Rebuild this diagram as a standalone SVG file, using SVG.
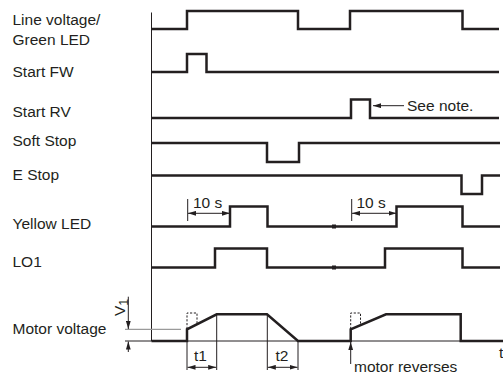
<svg xmlns="http://www.w3.org/2000/svg" width="503" height="374" viewBox="0 0 503 374">
<style>
.lbl{font-family:"Liberation Sans",Arial,Helvetica,sans-serif;font-size:15.5px;fill:#231f20}
.sig{fill:none;stroke:#231f20;stroke-width:2.5;stroke-linejoin:miter;stroke-linecap:butt}
.thin{fill:none;stroke:#231f20;stroke-width:1}
.gray{fill:none;stroke:#9a9a9a;stroke-width:1.2}
.dash{fill:none;stroke:#231f20;stroke-width:1;stroke-dasharray:2.2 1.6}
.arr{fill:none;stroke:#231f20;stroke-width:1;marker-end:url(#ah)}
.darr{fill:none;stroke:#231f20;stroke-width:1;marker-start:url(#ah);marker-end:url(#ah)}
</style>
<defs>
<marker id="ah" viewBox="0 0 10 6" refX="10" refY="3" markerWidth="8" markerHeight="5" orient="auto-start-reverse" markerUnits="userSpaceOnUse">
<path d="M0,0 L10,3 L0,6 z" fill="#231f20"/>
</marker>
</defs>
<rect width="503" height="374" fill="#ffffff"/>

<g id="axis">
<line x1="151.5" y1="12.5" x2="151.5" y2="341" class="thin"/>
<line x1="151.5" y1="341" x2="503" y2="341" class="thin"/>
</g>

<g id="line-voltage">
<text class="lbl" x="12.5" y="24.5">Line voltage/</text>
<text class="lbl" x="12.5" y="45">Green LED</text>
<path class="sig" d="M151.5,29 H187 V11 H298 V29 H350 V11 H462.5 V29 H499"/>
</g>

<g id="start-fw">
<text class="lbl" x="12.5" y="76.5">Start FW</text>
<path class="sig" d="M151.5,72 H187 V54 H206.5 V72 H499"/>
</g>

<g id="start-rv">
<text class="lbl" x="12.5" y="117">Start RV</text>
<path class="sig" d="M151.5,118 H351 V99.5 H370 V118 H499"/>
<text class="lbl" x="407" y="110.5">See note.</text>
</g>

<g id="soft-stop">
<text class="lbl" x="12.5" y="146">Soft Stop</text>
<path class="sig" d="M151.5,143 H267 V162 H299 V143 H500"/>
</g>

<g id="e-stop">
<text class="lbl" x="12.5" y="179.5">E Stop</text>
<path class="sig" d="M151.5,175.5 H461.5 V194 H482 V175.5 H500"/>
</g>

<g id="yellow-led">
<text class="lbl" x="12.5" y="229">Yellow LED</text>
<path class="sig" d="M151.5,226.5 H230 V206.5 H267.5 V226.5 H396.5 V206.5 H462.5 V226.5 H500"/>
<rect x="332" y="224.5" width="4" height="4" fill="#231f20"/>
<text class="lbl" x="193" y="207.5">10 s</text>
<text class="lbl" x="356.5" y="207.5">10 s</text>
</g>

<g id="lo1">
<text class="lbl" x="12.5" y="267">LO1</text>
<path class="sig" d="M151.5,267.5 H215 V248.5 H267 V267.5 H385 V248.5 H462.5 V267.5 H500"/>
<rect x="332" y="265.5" width="4" height="4" fill="#231f20"/>
</g>

<g id="motor-voltage">
<text class="lbl" x="12.5" y="334">Motor voltage</text>
<path class="sig" d="M151.5,341 H187 V329.3 L216.7,314.3 H267 L298,341 H350.7 V329.3 L386,314.3 H460.7 V341 H503"/>
<path class="dash" d="M187,329 V313 H197 V324"/>
<path class="dash" d="M350.7,329 V313 H360.5 V325"/>
<text class="lbl" transform="translate(125,316) rotate(-90)">V<tspan font-size="12.5" dy="3">1</tspan></text>
<text class="lbl" x="194" y="361">t1</text>
<text class="lbl" x="275.5" y="361">t2</text>
<text class="lbl" x="354" y="371.5">motor reverses</text>
<text class="lbl" x="499" y="358">t</text>
</g>

<g id="connectors">
<line class="arr" x1="404" y1="105.7" x2="373" y2="105.7"/>
<line class="thin" x1="187.7" y1="199" x2="187.7" y2="221"/>
<line class="darr" x1="188" y1="213.3" x2="230" y2="213.3"/>
<line class="thin" x1="351.7" y1="199" x2="351.7" y2="221"/>
<line class="darr" x1="352" y1="213.3" x2="396.5" y2="213.3"/>
<line class="gray" x1="125" y1="329.3" x2="181" y2="329.3"/>
<line class="thin" x1="125" y1="341" x2="151.5" y2="341"/>
<line class="arr" x1="128.3" y1="296.7" x2="128.3" y2="329"/>
<line class="arr" x1="128.3" y1="352" x2="128.3" y2="341.5"/>
<line class="thin" x1="187" y1="341" x2="187" y2="370"/>
<line class="thin" x1="216.7" y1="314.3" x2="216.7" y2="370"/>
<line class="darr" x1="187.5" y1="367.3" x2="216.2" y2="367.3"/>
<line class="thin" x1="267.3" y1="315" x2="267.3" y2="370"/>
<line class="thin" x1="298" y1="341" x2="298" y2="370"/>
<line class="darr" x1="267.8" y1="367.3" x2="297.5" y2="367.3"/>
<line class="arr" x1="350.7" y1="364" x2="350.7" y2="342"/>
</g>
</svg>
